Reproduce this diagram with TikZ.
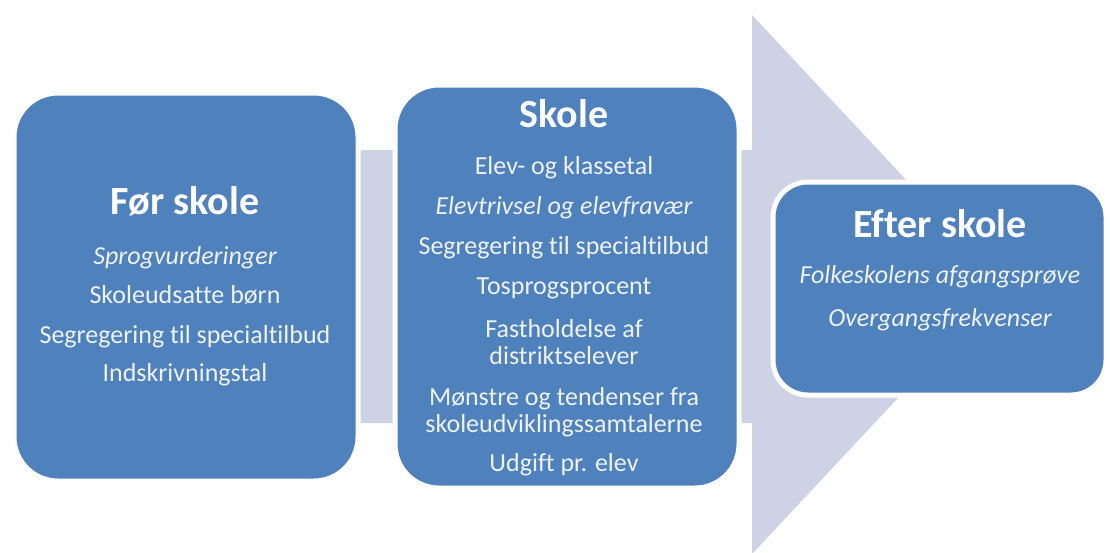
\documentclass[tikz,border=0pt]{standalone}
\usepackage{fontspec}
\setmainfont{Carlito}[Ligatures=NoCommon]
\definecolor{boxblue}{RGB}{79,129,189}
\definecolor{arrowgrey}{RGB}{205,211,228}
\definecolor{itemtext}{RGB}{238,242,248}
\tikzset{
  stage/.style={draw=white, line width=5pt, fill=boxblue, rounded corners=44pt, inner sep=0pt},
  head/.style={text=white, font=\fontsize{40}{42}\selectfont\bfseries, text height=28pt, text depth=9pt, inner sep=0pt},
  item/.style={text=itemtext, font=\fontsize{26}{27}\selectfont, text height=18pt, text depth=6pt, inner sep=0pt},
  itemit/.style={item, font=\fontsize{26}{27}\selectfont\itshape},
}
\begin{document}
\begin{tikzpicture}[x=1pt, y=-1pt]
    \useasboundingbox (0, 0) rectangle (1110, 552);
    \fill[arrowgrey] (20, 150) -- (752, 150) -- (752, 15) -- (1004, 284.5)
        -- (752, 554) -- (752, 423) -- (20, 423) -- cycle;

    \node[stage, minimum width=344pt, minimum height=388pt] (foer) at (186, 287) {};
    \node[stage, minimum width=344pt, minimum height=403pt] (skole) at (567, 286.5) {};
    \node[stage, minimum width=333pt, minimum height=213pt, rounded corners=35pt] (efter) at (939.5, 288.5) {};

        \node[head] (foerTitle) at (185, 205) {Før skole};
        \node[itemit] (foer1) at (185, 258) {Sprogvurderinger};
        \node[item] (foer2) at (185, 297) {Skoleudsatte børn};
        \node[item] (foer3) at (185, 337) {Segregering til specialtilbud};
        \node[item] (foer4) at (185, 375) {Indskrivningstal};

        \node[head] (skoleTitle) at (564, 118) {Skole};
        \node[item] (skole1) at (564, 168) {Elev- og klassetal};
        \node[itemit] (skole2) at (564, 208) {Elevtrivsel og elevfravær};
        \node[item] (skole3) at (564, 248) {Segregering til specialtilbud};
        \node[item] (skole4) at (564, 288) {Tosprogsprocent};
        \node[item] (skole5a) at (564, 331) {Fastholdelse af};
        \node[item] (skole5b) at (564, 358) {distriktselever};
        \node[item] (skole6a) at (564, 399) {Mønstre og tendenser fra};
        \node[item] (skole6b) at (564, 426) {skoleudviklingssamtalerne};
        \node[item] (skole7) at (564, 465) {Udgift pr. elev};

        \node[head] (efterTitle) at (940, 228) {Efter skole};
        \node[itemit] (efter1) at (940, 277) {Folkeskolens afgangsprøve};
        \node[itemit] (efter2) at (940, 320) {Overgangsfrekvenser};
\end{tikzpicture}
\end{document}
